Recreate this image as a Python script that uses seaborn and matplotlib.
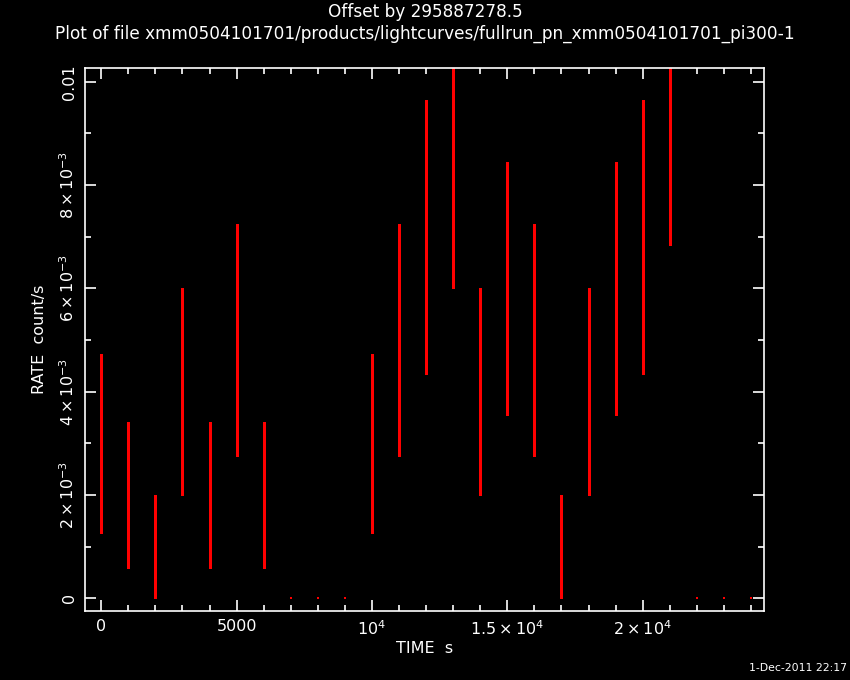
from matplotlib import pyplot as plt
from matplotlib.ticker import MultipleLocator, FixedLocator
import seaborn as sns
import pandas as pd
import numpy as np

# light curve bins (1000 s), offset by 295887278.5
time = [0, 1000, 2000, 3000, 4000, 5000, 6000, 7000, 8000, 9000, 10000, 11000,
        12000, 13000, 14000, 15000, 16000, 17000, 18000, 19000, 20000, 21000,
        22000, 23000, 24000]
rate = [0.003, 0.002, 0.001, 0.004, 0.002, 0.005, 0.002, 0.0, 0.0, 0.0, 0.003, 0.005,
        0.007, 0.009, 0.004, 0.006, 0.005, 0.001, 0.004, 0.006, 0.007, 0.010,
        0.0, 0.0, 0.0]
error = [0.00173, 0.00141, 0.001, 0.002, 0.00141, 0.00224, 0.00141, 0.0, 0.0, 0.0, 0.00173, 0.00224,
         0.00265, 0.003, 0.002, 0.00245, 0.00224, 0.001, 0.002, 0.00245, 0.00265, 0.00316,
         0.0, 0.0, 0.0]

xticks = [0, 5000, 10000, 15000, 20000]
xticklabels = ["0", "5000", r"$10^{4}$", r"$1.5\times10^{4}$", r"$2\times10^{4}$"]
yticks = [0, 0.002, 0.004, 0.006, 0.008, 0.01]
yticklabels = ["0", r"$2\times10^{-3}$", r"$4\times10^{-3}$", r"$6\times10^{-3}$",
               r"$8\times10^{-3}$", "0.01"]

df = pd.DataFrame({"TIME": time, "RATE": rate, "ERROR": error})
df["lo"] = df["RATE"] - df["ERROR"]
df["hi"] = df["RATE"] + df["ERROR"]

sns.set_style("dark")
plt.rcParams['font.family'] = ['DejaVu Sans']
plt.rcParams['mathtext.fontset'] = 'dejavusans'

fig = plt.figure(figsize=(8.5, 6.8), dpi=100, facecolor="black")
ax = fig.add_axes([0.1, 0.1015, 0.7988, 0.7985])
ax.set_facecolor("black")

ax.vlines(df["TIME"], df["lo"], df["hi"], colors="#ff0000", linewidth=1.0,
          antialiased=False)
sns.scatterplot(data=df, x="TIME", y="RATE", color="#ff0000", s=3, marker="s",
                linewidth=0, ax=ax, legend=False)

ax.set_xlim(-600, 24480)
ax.set_ylim(-0.000246, 0.010267)

ax.xaxis.set_major_locator(FixedLocator(xticks))
ax.set_xticklabels(xticklabels)
ax.xaxis.set_minor_locator(MultipleLocator(1000))
ax.yaxis.set_major_locator(FixedLocator(yticks))
ax.set_yticklabels(yticklabels, rotation=90, va="center")
ax.yaxis.set_minor_locator(MultipleLocator(0.001))

ax.tick_params(which="both", direction="in", colors="white", top=True, right=True,
               bottom=True, left=True, labelsize=11.5, width=1.2)
ax.tick_params(which="major", length=8, pad=6)
ax.tick_params(which="minor", length=4)
for s in ax.spines.values():
    s.set_visible(True)
    s.set_color("white")
    s.set_linewidth(1.2)
ax.grid(False)

ax.set_xlabel("TIME  s", color="white", fontsize=11.5, labelpad=2)
ax.set_ylabel("RATE  count/s", color="white", fontsize=11.5, labelpad=8)

fig.text(0.5, 0.982, "Offset by 295887278.5", color="white", fontsize=12.2,
         ha="center", va="center")
fig.text(0.5, 0.95, "Plot of file xmm0504101701/products/lightcurves/fullrun_pn_xmm0504101701_pi300-1",
         color="white", fontsize=12.2, ha="center", va="center")
fig.text(0.996, 0.018, "1-Dec-2011 22:17", color="white", fontsize=7.8,
         ha="right", va="center")

fig.savefig("out.png", dpi=100, facecolor="black")
